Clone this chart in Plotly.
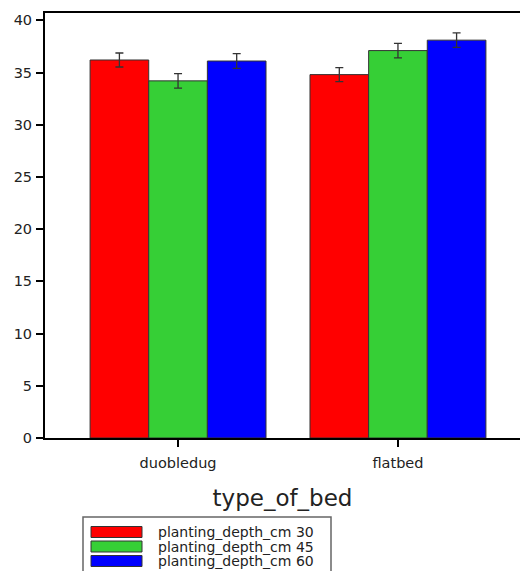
import plotly.graph_objects as go

categories = ["duobledug", "flatbed"]
series_names = ["planting_depth_cm 30", "planting_depth_cm 45", "planting_depth_cm 60"]
values_30 = [36.2, 34.8]
values_45 = [34.2, 37.1]
values_60 = [36.1, 38.1]
errors_30 = [0.67, 0.67]
errors_45 = [0.69, 0.69]
errors_60 = [0.70, 0.70]
y_ticks = [0, 5, 10, 15, 20, 25, 30, 35, 40]
colors = ["#FF0000", "#36CF36", "#0000FF"]

W, H = 520, 571
L, T, R, B = 45, 13, 0, 133
PW, PH = W - L - R, H - T - B
FONT = "DejaVu Sans"
TXT = "#222222"

fig = go.Figure()
for name, vals, errs, col in zip(series_names, [values_30, values_45, values_60],
                                 [errors_30, errors_45, errors_60], colors):
    fig.add_trace(go.Bar(
        x=categories, y=vals, name=name,
        marker=dict(color=col, line=dict(color="#333333", width=1)),
        error_y=dict(type="data", array=errs, visible=True, color="#333333",
                     thickness=1.3, width=4),
        showlegend=False,
    ))

fig.update_layout(
    width=W, height=H,
    margin=dict(l=L, r=R, t=T, b=B, autoexpand=False),
    paper_bgcolor="white", plot_bgcolor="white",
    barmode="group", bargap=0.2, bargroupgap=0,
    font=dict(family=FONT, color=TXT),
    xaxis=dict(
        type="category", range=[-0.605, 1.555],
        showline=True, linecolor="black", linewidth=2, mirror=True,
        ticks="outside", ticklen=7, tickwidth=2, tickcolor="black",
        tickfont=dict(size=14.5, family=FONT, color=TXT),
        ticklabelstandoff=4,
        title=dict(text="type_of_bed", font=dict(size=23, family=FONT, color=TXT), standoff=19),
        showgrid=False, zeroline=False,
    ),
    yaxis=dict(
        range=[0, 40.7],
        tickvals=y_ticks, ticktext=[str(v) for v in y_ticks],
        showline=True, linecolor="black", linewidth=2, mirror=False,
        ticks="outside", ticklen=7, tickwidth=2, tickcolor="black",
        tickfont=dict(size=14.5, family=FONT, color=TXT),
        ticklabelstandoff=1,
        showgrid=False, zeroline=False,
    ),
)

def px_x(px):
    return (px - L) / PW

def px_y(py):
    return (H - B - py) / PH

# custom legend with wide swatches
fig.add_shape(type="rect", xref="paper", yref="paper",
              x0=px_x(83), x1=px_x(331), y0=px_y(575), y1=px_y(517),
              line=dict(color="#666666", width=1.5), fillcolor="white")
row_centers = [532, 546.5, 561]
for name, col, cy in zip(series_names, colors, row_centers):
    fig.add_shape(type="rect", xref="paper", yref="paper",
                  x0=px_x(91), x1=px_x(142), y0=px_y(cy + 5.5), y1=px_y(cy - 5.5),
                  line=dict(color="#333333", width=1), fillcolor=col)
    fig.add_annotation(xref="paper", yref="paper", x=px_x(157), y=px_y(cy),
                       text=name, showarrow=False, xanchor="left", yanchor="middle",
                       borderpad=0,
                       font=dict(size=14, family=FONT, color=TXT))

fig.write_html("out.html", config={"displayModeBar": False},
               post_script="document.body.style.margin='0';document.body.style.padding='0';")
